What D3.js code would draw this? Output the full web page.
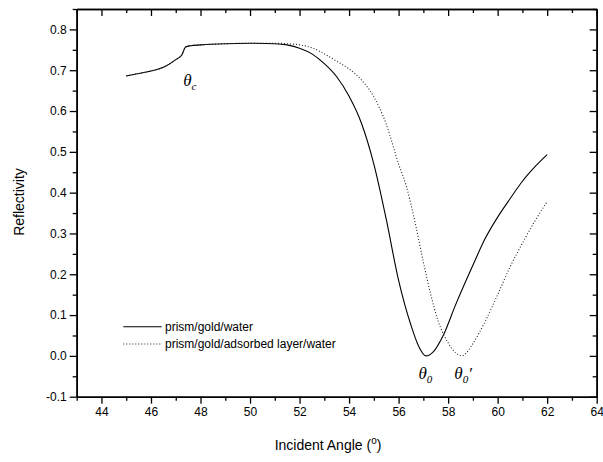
<!DOCTYPE html>
<html><head><meta charset="utf-8">
<script src="https://cdn.jsdelivr.net/npm/d3@7"></script>
<style>
body{margin:0;background:#fff;}
text{font-family:"Liberation Sans",Arial,sans-serif;fill:#000;}
</style></head><body>
<svg id="c" width="603" height="462"></svg>
<script>
const waterAngle = [45.0,45.5,46.0,46.5,47.0,47.25,47.4,47.6,48.0,49.0,50.0,51.0,51.5,52.0,52.5,53.0,53.5,54.0,54.5,55.0,55.5,56.0,56.5,56.8,57.1,57.4,57.8,58.3,59.0,59.5,60.0,60.5,61.0,61.5,62.0];
const waterRefl  = [0.686,0.692,0.698,0.707,0.726,0.738,0.757,0.760,0.762,0.765,0.766,0.765,0.762,0.754,0.740,0.716,0.684,0.636,0.570,0.470,0.335,0.185,0.075,0.025,0.0,0.010,0.050,0.125,0.222,0.288,0.340,0.385,0.428,0.463,0.493];
const layerAngle = [45.0,45.5,46.0,46.5,47.0,47.25,47.4,47.6,48.0,49.0,50.0,51.0,51.5,52.0,52.5,53.0,53.5,54.0,54.5,55.0,55.5,56.0,56.3,56.6,57.0,57.3,57.6,58.0,58.3,58.55,58.8,59.0,59.5,60.0,60.5,61.0,61.5,62.0];
const layerRefl  = [0.686,0.692,0.698,0.707,0.726,0.738,0.757,0.760,0.762,0.765,0.766,0.766,0.765,0.762,0.755,0.740,0.722,0.703,0.676,0.635,0.568,0.470,0.418,0.345,0.230,0.150,0.085,0.032,0.008,0.0,0.012,0.030,0.085,0.150,0.218,0.276,0.330,0.378];
const xTicks = [44,46,48,50,52,54,56,58,60,62,64];
const yTicks = [-0.1,0.0,0.1,0.2,0.3,0.4,0.5,0.6,0.7,0.8];
const seriesNames = ["prism/gold/water","prism/gold/adsorbed layer/water"];

const L=76.7,R=596.7,T=9,B=396.7;
const svg=d3.select("#c");
const x=d3.scaleLinear().domain([43,64]).range([L,R]);
const y=d3.scaleLinear().domain([-0.1,0.85]).range([B,T]);

const xMinor=d3.range(43,64.01,1).filter(v=>!xTicks.includes(v));
const yMinor=d3.range(-0.05,0.851,0.1).map(v=>+v.toFixed(2));
const yFmt=v=>v.toFixed(1);

function addAxis(axis, tr){ const g=svg.append("g").attr("transform",tr).call(axis);
  g.select(".domain").attr("stroke","#000").attr("stroke-width",1.6);
  g.selectAll(".tick line").attr("stroke","#000").attr("stroke-width",1.3);
  g.selectAll("text").style("font-size","12px").style("font-family","Liberation Sans, Arial, sans-serif");
  return g;}
// bottom
addAxis(d3.axisBottom(x).tickValues(xTicks).tickSize(7).tickSizeOuter(0).tickPadding(4).tickFormat(d3.format("d")),`translate(0,${B})`);
addAxis(d3.axisBottom(x).tickValues(xMinor).tickSize(4).tickSizeOuter(0).tickFormat(""),`translate(0,${B})`);
// left
addAxis(d3.axisLeft(y).tickValues(yTicks).tickSize(7).tickSizeOuter(0).tickPadding(3).tickFormat(yFmt),`translate(${L},0)`);
addAxis(d3.axisLeft(y).tickValues(yMinor).tickSize(4).tickSizeOuter(0).tickFormat(""),`translate(${L},0)`);
// top (inward)
addAxis(d3.axisBottom(x).tickValues(xTicks).tickSize(7).tickSizeOuter(0).tickFormat(""),`translate(0,${T})`);
addAxis(d3.axisBottom(x).tickValues(xMinor).tickSize(4).tickSizeOuter(0).tickFormat(""),`translate(0,${T})`);
// right (inward)
addAxis(d3.axisLeft(y).tickValues(yTicks).tickSize(7).tickSizeOuter(0).tickFormat(""),`translate(${R},0)`);
addAxis(d3.axisLeft(y).tickValues(yMinor).tickSize(4).tickSizeOuter(0).tickFormat(""),`translate(${R},0)`);

const line=d3.line().x(d=>x(d[0])).y(d=>y(d[1])).curve(d3.curveMonotoneX);
svg.append("path").datum(waterAngle.map((a,i)=>[a,waterRefl[i]])).attr("d",line)
  .attr("fill","none").attr("stroke","#000").attr("stroke-width",1.1);
svg.append("path").datum(layerAngle.map((a,i)=>[a,layerRefl[i]])).attr("d",line)
  .attr("fill","none").attr("stroke","#222").attr("stroke-width",1.1).attr("stroke-dasharray","1,2");

// legend
const lg=svg.append("g");
seriesNames.forEach((n,i)=>{
  const yy=326.7+i*17.3;
  lg.append("line").attr("x1",123.3).attr("x2",161.7).attr("y1",yy).attr("y2",yy)
    .attr("stroke",i?"#222":"#000").attr("stroke-width",1.1).attr("stroke-dasharray",i?"1,2":null);
  lg.append("text").attr("x",165).attr("y",yy+4.3).style("font-size","12px").text(n);
});

// axis titles
svg.append("text").attr("transform","translate(24,202) rotate(-90)").attr("text-anchor","middle")
  .style("font-size","14px").text("Reflectivity");
const xt=svg.append("text").attr("x",328).attr("y",450).attr("text-anchor","middle").style("font-size","14px");
xt.append("tspan").text("Incident Angle (");
xt.append("tspan").attr("dy",-6).style("font-size","10px").text("o");
xt.append("tspan").attr("dy",6).text(")");

// theta labels
function theta(px,py,sub,prime){
  const t=svg.append("text").attr("x",px).attr("y",py).style("font-family","Liberation Serif, Times New Roman, serif")
    .style("font-style","italic").style("font-size","17px");
  t.append("tspan").text("θ");
  t.append("tspan").attr("dy",4).style("font-size","11px").text(sub);
  if(prime) t.append("tspan").attr("dy",-4).style("font-size","17px").text("′");
}
theta(x(47.3),86,"c",false);
theta(x(56.8),379,"0",false);
theta(x(58.25),379,"0",true);
</script></body></html>
